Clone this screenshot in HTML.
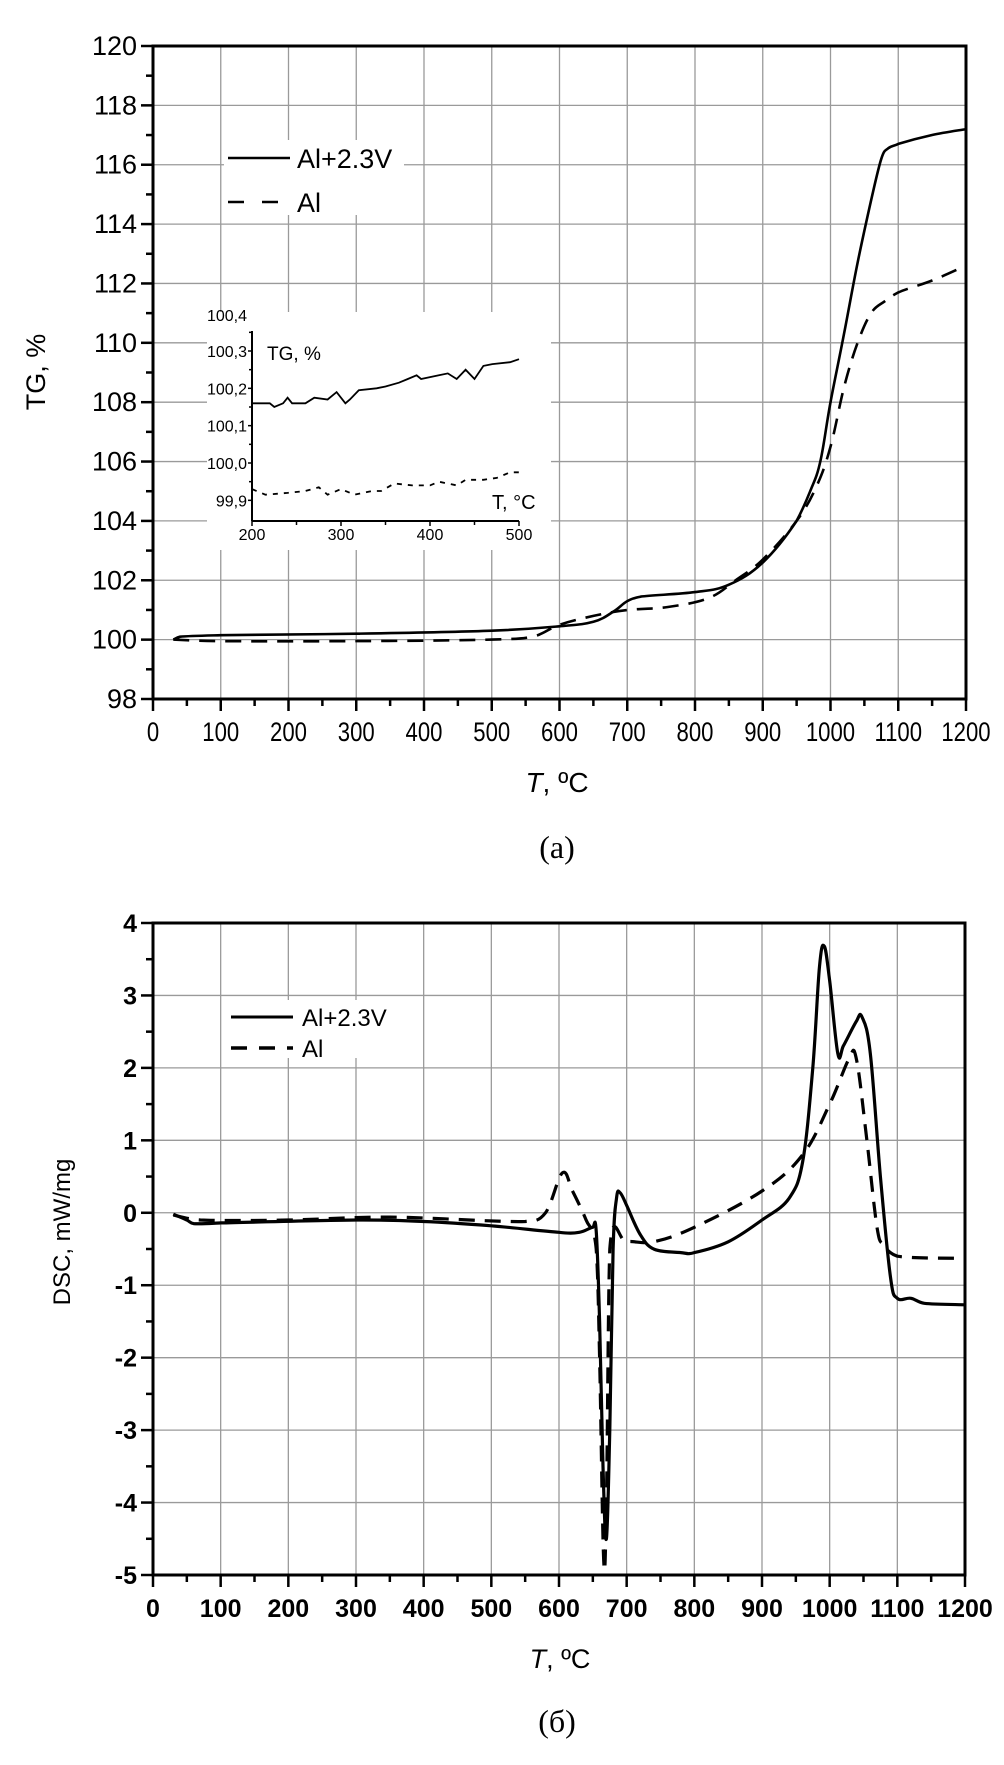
<!DOCTYPE html>
<html><head><meta charset="utf-8">
<style>
html,body{margin:0;padding:0;background:#fff;}
svg{display:block;}
text{font-family:"Liberation Sans",Arial,sans-serif;fill:#000;}
.serif{font-family:"Liberation Serif",serif;}
</style></head>
<body>
<svg id="fig" width="1004" height="1765" viewBox="0 0 1004 1765" xmlns="http://www.w3.org/2000/svg">
<g id="tg"></g>
<g id="inset"></g>
<g id="dsc"></g>
</svg>
<script>
// ---- TG main chart data ----
const tgXTicks = [0,100,200,300,400,500,600,700,800,900,1000,1100,1200];
const tgYTicks = [98,100,102,104,106,108,110,112,114,116,118,120];
const tgSolidT = [30,40,100,300,500,600,650,680,700,720,800,850,900,950,970,985,1000,1020,1040,1060,1075,1085,1100,1150,1200];
const tgSolidV = [100.0,100.1,100.15,100.2,100.3,100.45,100.6,100.95,101.3,101.45,101.6,101.85,102.6,104,105,106,108,110.3,112.7,114.8,116.2,116.55,116.7,117,117.2];
const tgDashT = [30,100,300,500,560,600,650,700,760,820,860,900,950,980,1000,1020,1040,1060,1080,1100,1150,1200];
const tgDashV = [100.0,99.95,99.95,100,100.1,100.5,100.8,101.0,101.1,101.4,102.0,102.7,104,105.2,106.5,108.5,110,111,111.4,111.7,112.1,112.6];
// ---- inset data ----
const inXTicks = [200,300,400,500];
const inYTicks = [99.9,100.0,100.1,100.2,100.3,100.4];
const inYLabels = ["99,9","100,0","100,1","100,2","100,3","100,4"];
const inSolidT = [200,220,225,235,240,245,260,270,285,295,305,310,320,340,350,365,375,385,390,400,410,420,430,440,450,460,470,490,500];
const inSolidV = [100.16,100.16,100.15,100.16,100.175,100.16,100.16,100.175,100.17,100.19,100.16,100.17,100.195,100.2,100.205,100.215,100.225,100.235,100.225,100.23,100.235,100.24,100.225,100.25,100.225,100.26,100.265,100.27,100.278];
const inDashT = [200,215,240,260,275,285,300,315,335,345,360,380,400,410,430,440,460,475,490,500];
const inDashV = [99.93,99.915,99.92,99.925,99.935,99.915,99.93,99.915,99.925,99.925,99.945,99.94,99.94,99.95,99.94,99.955,99.955,99.96,99.975,99.975];
// ---- DSC data ----
const dscXTicks = [0,100,200,300,400,500,600,700,800,900,1000,1100,1200];
const dscYTicks = [-5,-4,-3,-2,-1,0,1,2,3,4];
const dscSolidT = [30,50,60,100,300,400,500,600,630,650,655,660,665,670,675,680,685,690,700,720,740,780,800,850,900,940,960,975,985,992,1000,1012,1020,1040,1048,1060,1075,1090,1100,1120,1140,1200];
const dscSolidV = [-0.02,-0.1,-0.15,-0.14,-0.1,-0.12,-0.18,-0.27,-0.27,-0.2,-0.25,-1.5,-3.5,-4.5,-3,-0.5,0.2,0.28,0.1,-0.3,-0.5,-0.55,-0.55,-0.4,-0.1,0.2,0.7,2,3.4,3.68,3.2,2.2,2.3,2.65,2.7,2.2,0.5,-0.9,-1.18,-1.18,-1.25,-1.27];
const dscDashT = [30,70,200,350,550,580,605,620,640,655,660,666,670,675,700,740,800,900,960,1000,1030,1040,1055,1070,1080,1100,1200];
const dscDashV = [-0.03,-0.1,-0.1,-0.06,-0.12,0.0,0.55,0.3,-0.1,-0.5,-2,-4.8,-4,-0.5,-0.4,-0.4,-0.2,0.3,0.8,1.5,2.15,2.1,1.0,-0.2,-0.45,-0.6,-0.63];

const NS="http://www.w3.org/2000/svg";
function mk(parent,tag,attrs){const e=document.createElementNS(NS,tag);for(const k in attrs)e.setAttribute(k,attrs[k]);parent.appendChild(e);return e;}
function lin(d0,d1,p0,p1){return v=>p0+(v-d0)*(p1-p0)/(d1-d0);}
function pathD(xs,ys,sx,sy){return xs.map((t,i)=>(i?'L':'M')+sx(t).toFixed(1)+','+sy(ys[i]).toFixed(1)).join(' ');}
function smoothD(xs,ys,sx,sy){
  const P=xs.map((t,i)=>[sx(t),sy(ys[i])]);
  let d='M'+P[0][0].toFixed(1)+','+P[0][1].toFixed(1);
  const k=0.18;
  for(let i=0;i<P.length-1;i++){
    const p0=P[Math.max(0,i-1)],p1=P[i],p2=P[i+1],p3=P[Math.min(P.length-1,i+2)];
    const dx=p2[0]-p1[0];
    const c1x=p1[0]+Math.min((p2[0]-p0[0])*k,dx/2), c1y=p1[1]+(p2[1]-p0[1])*k;
    const c2x=p2[0]-Math.min((p3[0]-p1[0])*k,dx/2), c2y=p2[1]-(p3[1]-p1[1])*k;
    d+=' C'+c1x.toFixed(1)+','+c1y.toFixed(1)+' '+c2x.toFixed(1)+','+c2y.toFixed(1)+' '+p2[0].toFixed(1)+','+p2[1].toFixed(1);
  }
  return d;
}

function drawMain(g,o){
  const sx=lin(0,1200,o.x0,o.x1), sy=lin(o.ymin,o.ymax,o.yb,o.yt);
  o.xt.forEach(t=>{if(t>0&&t<1200){const l=mk(g,'line',{x1:sx(t),x2:sx(t),y1:o.yt,y2:o.yb,stroke:'#9a9a9a','stroke-width':1.3});
    
    }});
  o.yt2.forEach(v=>{if(v>o.ymin&&v<o.ymax){const l=mk(g,'line',{x1:o.x0,x2:o.x1,y1:sy(v),y2:sy(v),stroke:'#9a9a9a','stroke-width':1.3});
    
    }});
  const fr=mk(g,'rect',{x:o.x0,y:o.yt,width:o.x1-o.x0,height:o.yb-o.yt,fill:'none',stroke:'#000','stroke-width':3});
  
  
  o.xt.forEach(t=>{mk(g,'line',{x1:sx(t),x2:sx(t),y1:o.yb,y2:o.yb+12,stroke:'#000','stroke-width':2.5});
    if(t<1200)mk(g,'line',{x1:sx(t+50),x2:sx(t+50),y1:o.yb,y2:o.yb+7,stroke:'#000','stroke-width':2.5});
    const tx=mk(g,'text',{x:sx(t),y:o.yb+42,'text-anchor':'middle','font-size':o.fs,'font-weight':o.fw,transform:o.sq?`translate(${sx(t)},0) scale(0.82,1) translate(${-sx(t)},0)`:''});
    tx.textContent=t;
    
    });
  o.yt2.forEach((v,i)=>{mk(g,'line',{x1:o.x0-12,x2:o.x0,y1:sy(v),y2:sy(v),stroke:'#000','stroke-width':2.5});
    if(i<o.yt2.length-1){const m=(v+o.yt2[i+1])/2;mk(g,'line',{x1:o.x0-7,x2:o.x0,y1:sy(m),y2:sy(m),stroke:'#000','stroke-width':2.5});}
    const tx=mk(g,'text',{x:o.x0-16,y:sy(v)+9,'text-anchor':'end','font-size':o.fs,'font-weight':o.fw});
    tx.textContent=v;
    
    });
  const p1=mk(g,'path',{d:smoothD(o.sT,o.sV,sx,sy),fill:'none',stroke:'#000','stroke-width':o.lw,'stroke-linejoin':'round'});
  
  
  const p2=mk(g,'path',{d:smoothD(o.dT,o.dV,sx,sy),fill:'none',stroke:'#000','stroke-width':o.lw,'stroke-dasharray':'16 10','stroke-linejoin':'round'});
  
  
}

const tg=document.getElementById('tg');
drawMain(tg,{x0:153,x1:966,yt:46,yb:699,ymin:98,ymax:120,xt:tgXTicks,yt2:tgYTicks,sT:tgSolidT,sV:tgSolidV,dT:tgDashT,dV:tgDashV,fs:27,fw:'normal',lw:2.6,sq:true});
const ins=document.getElementById('inset');
{
  const bg=mk(ins,'rect',{x:207,y:312,width:344,height:238,fill:'#fff'});
  
  
  const sx=lin(200,500,252,519), sy=lin(100.0,100.3,463,351);
  mk(ins,'line',{x1:252,x2:252,y1:331,y2:521,stroke:'#000','stroke-width':2});
  mk(ins,'line',{x1:252,x2:519,y1:521,y2:521,stroke:'#000','stroke-width':2});
  inXTicks.forEach(t=>{mk(ins,'line',{x1:sx(t),x2:sx(t),y1:521,y2:526,stroke:'#000','stroke-width':1.5});
    if(t<500)mk(ins,'line',{x1:sx(t+50),x2:sx(t+50),y1:521,y2:525,stroke:'#000','stroke-width':1.5});
    const tx=mk(ins,'text',{x:sx(t),y:540,'text-anchor':'middle','font-size':16});
    tx.textContent=t;
    
    });
  inYTicks.forEach((v,i)=>{if(v<100.35){mk(ins,'line',{x1:248,x2:252,y1:sy(v),y2:sy(v),stroke:'#000','stroke-width':1.5});
      mk(ins,'line',{x1:249,x2:252,y1:sy(v+0.05),y2:sy(v+0.05),stroke:'#000','stroke-width':1.5});}
    const tx=mk(ins,'text',{x:247,y:(v>100.35?315:sy(v))+6,'text-anchor':'end','font-size':16});
    tx.textContent=inYLabels[i];
    
    });
  const a=mk(ins,'text',{x:267,y:360,'font-size':19});a.textContent='TG, %';
  
  
  const b=mk(ins,'text',{x:492,y:509,'font-size':20});b.textContent='T, °C';
  
  
  const p1=mk(ins,'path',{d:pathD(inSolidT,inSolidV,sx,sy),fill:'none',stroke:'#000','stroke-width':1.8});
  
  
  const p2=mk(ins,'path',{d:pathD(inDashT,inDashV,sx,sy),fill:'none',stroke:'#000','stroke-width':1.8,'stroke-dasharray':'5 6'});
  
  
}
{
  mk(tg,'rect',{x:224,y:140,width:180,height:75,fill:'#fff'});
  mk(tg,'line',{x1:228,x2:290,y1:158,y2:158,stroke:'#000','stroke-width':2.6});
  mk(tg,'line',{x1:228,x2:290,y1:202,y2:202,stroke:'#000','stroke-width':2.6,'stroke-dasharray':'16 18'});
  const l1=mk(tg,'text',{x:297,y:168,'font-size':27});l1.textContent='Al+2.3V';
  
  
  const l2=mk(tg,'text',{x:297,y:212,'font-size':27});l2.textContent='Al';
  
  
  const yt=mk(tg,'text',{x:0,y:0,'font-size':27,'text-anchor':'middle',transform:'translate(45,372) rotate(-90)'});yt.textContent='TG, %';
  
  
  const xt=mk(tg,'text',{x:557,y:792,'font-size':28,'text-anchor':'middle'});
  xt.innerHTML='<tspan font-style="italic">T</tspan>, ºC';
  
  
  const cp=mk(tg,'text',{x:557,y:858,'font-size':32,'text-anchor':'middle','class':'serif'});cp.textContent='(a)';
  
  
}
const dsc=document.getElementById('dsc');
drawMain(dsc,{x0:153,x1:965,yt:923,yb:1575,ymin:-5,ymax:4,xt:dscXTicks,yt2:dscYTicks,sT:dscSolidT,sV:dscSolidV,dT:dscDashT,dV:dscDashV,fs:25,fw:'bold',lw:3.2,sq:false});
{
  mk(dsc,'rect',{x:228,y:1000,width:175,height:58,fill:'#fff'});
  mk(dsc,'line',{x1:231,x2:293,y1:1017,y2:1017,stroke:'#000','stroke-width':3});
  mk(dsc,'line',{x1:231,x2:293,y1:1048,y2:1048,stroke:'#000','stroke-width':3.5,'stroke-dasharray':'16 12'});
  const l1=mk(dsc,'text',{x:302,y:1026,'font-size':24});l1.textContent='Al+2.3V';
  
  
  const l2=mk(dsc,'text',{x:302,y:1057,'font-size':24});l2.textContent='Al';
  
  
  const yt=mk(dsc,'text',{x:0,y:0,'font-size':24,'text-anchor':'middle',transform:'translate(70,1232) rotate(-90)'});yt.textContent='DSC, mW/mg';
  
  
  const xt=mk(dsc,'text',{x:560,y:1668,'font-size':27,'text-anchor':'middle'});
  xt.innerHTML='<tspan font-style="italic">T</tspan>, ºC';
  
  
  const cp=mk(dsc,'text',{x:557,y:1732,'font-size':32,'text-anchor':'middle','class':'serif'});cp.textContent='(б)';
  
  
}
</script>
</body></html>
